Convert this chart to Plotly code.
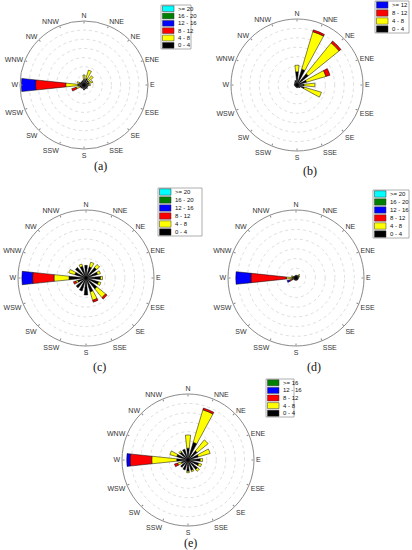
import plotly.graph_objects as go

W_PX, H_PX = 412, 550

# ---------------- data ----------------
DIR_LABELS = ["N", "NNE", "NE", "ENE", "E", "ESE", "SE", "SSE",
              "S", "SSW", "SW", "WSW", "W", "WNW", "NW", "NNW"]
DIR_ANGLES = [0, 22.5, 45, 67.5, 90, 112.5, 135, 157.5,
              180, 202.5, 225, 247.5, 270, 292.5, 315, 337.5]

CLASS_LABELS_6 = ["0 - 4", "4 - 8", "8 - 12", "12 - 16", "16 - 20", ">= 20"]
CLASS_LABELS_B = ["0 - 4", "4 - 8", "8 - 12", ">= 12"]
CLASS_LABELS_E = ["0 - 4", "4 - 8", "8 - 12", "12 - 16", ">= 16"]
CLASS_COLORS = ["#000000", "#ffff00", "#ff0000", "#0000ff", "#008000", "#00ffff"]
CLASS_COLORS_B = ["#000000", "#ffff00", "#ff0000", "#0000ff"]
CLASS_COLORS_E = ["#000000", "#ffff00", "#ff0000", "#0000ff", "#008000"]

# frequency (stacked segment) per direction for each speed class
A_0_4 = [1.2, 1.5, 1.3, 1.2, 1.0, 0.9, 1.0, 0.9, 1.1, 0.8, 0.9, 1.0, 1.4, 1.1, 0.9, 1.0]
A_4_8 = [1.0, 1.9, 1.3, 0.8, 0.4, 0, 0, 0, 0, 0, 0, 0.8, 2.6, 0.5, 0, 0]
A_8_12 = [0, 0, 0, 0, 0, 0, 0, 0, 0, 0, 0, 1.0, 6.6, 0, 0, 0]
A_12_16 = [0, 0, 0, 0, 0, 0, 0, 0, 0, 0, 0, 0, 3.1, 0, 0, 0]
A_16_20 = [0] * 16
A_20 = [0] * 16

B_0_4 = [2.8, 3.5, 3.1, 2.1, 1.5, 1.6, 0.8, 0.6, 0.6, 0.5, 0.5, 0.5, 0.6, 0.6, 0.7, 1.0]
B_4_8 = [1.4, 8.3, 8.4, 4.3, 2.3, 3.8, 0, 0, 0, 0, 0, 0, 0, 0, 0, 0]
B_8_12 = [0, 0.4, 0.5, 0.9, 0, 0, 0, 0, 0, 0, 0, 0, 0, 0, 0, 0]
B_12 = [0] * 16

C_0_4 = [2.6, 2.4, 2.8, 2.5, 3.0, 2.7, 2.9, 3.0, 3.5, 2.8, 2.6, 1.8, 3.5, 2.4, 2.8, 2.5]
C_4_8 = [0, 1.0, 0.8, 0.6, 0.4, 0.5, 2.3, 1.8, 0, 0, 0, 0.4, 3.1, 1.3, 0, 0.5]
C_8_12 = [0, 0, 0, 0, 0, 0, 0.4, 0.4, 0, 0, 0, 0.5, 4.4, 0, 0, 0]
C_12_16 = [0, 0, 0, 0, 0, 0, 0, 0, 0, 0, 0, 0, 2.2, 0, 0, 0]
C_16_20 = [0] * 16
C_20 = [0] * 16

D_0_4 = [0.6, 0.6, 0.7, 0.6, 0.5, 0.5, 0.5, 0.5, 0.5, 0.5, 0.5, 0.5, 0.8, 0.6, 0.5, 0.5]
D_4_8 = [0, 0, 0.3, 0.2, 0, 0, 0, 0, 0, 0, 0, 0.3, 1.2, 0.4, 0, 0]
D_8_12 = [0, 0, 0, 0, 0, 0, 0, 0, 0, 0, 0, 0.6, 7.3, 0, 0, 0]
D_12_16 = [0, 0, 0, 0, 0, 0, 0, 0, 0, 0, 0, 0.5, 3.1, 0, 0, 0]
D_16_20 = [0] * 16
D_20 = [0] * 16

E_0_4 = [2.5, 3.9, 2.5, 2.3, 2.6, 2.4, 2.6, 2.3, 2.4, 2.2, 2.0, 1.5, 2.4, 2.5, 2.2, 2.4]
E_4_8 = [2.8, 7.2, 3.0, 2.6, 0.5, 0.6, 0.5, 0.3, 0.3, 0, 0, 0.8, 5.3, 1.5, 0.3, 0]
E_8_12 = [0, 0.4, 0, 0, 0, 0, 0, 0, 0, 0, 0, 0.7, 4.6, 0, 0, 0]
E_12_16 = [0, 0, 0, 0, 0, 0, 0, 0, 0, 0, 0, 0, 0.7, 0, 0, 0]
E_16 = [0] * 16

RING_VALUES = [2, 4, 6, 8, 10, 12]
R_MAX = 14

PANELS = [
    dict(tag="(a)", cx=84, cy=85, r=64,
         series=[A_0_4, A_4_8, A_8_12, A_12_16, A_16_20, A_20],
         labels=CLASS_LABELS_6, colors=CLASS_COLORS,
         leg=(161, 5, 191, 49), cap=(100, 166)),
    dict(tag="(b)", cx=297, cy=85, r=66,
         series=[B_0_4, B_4_8, B_8_12, B_12],
         labels=CLASS_LABELS_B, colors=CLASS_COLORS_B,
         leg=(375, 1, 409, 33), cap=(310, 171)),
    dict(tag="(c)", cx=86, cy=278, r=68,
         series=[C_0_4, C_4_8, C_8_12, C_12_16, C_16_20, C_20],
         labels=CLASS_LABELS_6, colors=CLASS_COLORS,
         leg=(158, 188, 202, 236), cap=(99, 367)),
    dict(tag="(d)", cx=296, cy=278, r=68,
         series=[D_0_4, D_4_8, D_8_12, D_12_16, D_16_20, D_20],
         labels=CLASS_LABELS_6, colors=CLASS_COLORS,
         leg=(373, 190, 409, 238), cap=(314, 367)),
    dict(tag="(e)", cx=188, cy=460, r=66,
         series=[E_0_4, E_4_8, E_8_12, E_12_16, E_16],
         labels=CLASS_LABELS_E, colors=CLASS_COLORS_E,
         leg=(266, 379, 294, 417), cap=(190, 543)),
]


def px_x(x):
    return x / W_PX


def px_y(y):
    return 1 - y / H_PX


fig = go.Figure()
shapes = []
annotations = []
layout_polars = {}

for i, p in enumerate(PANELS):
    key = "polar" if i == 0 else f"polar{i + 1}"
    for vals, lab, col in zip(p["series"], p["labels"], p["colors"]):
        fig.add_trace(go.Barpolar(
            r=vals, theta=DIR_ANGLES, width=12, name=lab,
            marker=dict(color=col, line=dict(color="#000000", width=0.5)),
            subplot=key, showlegend=False,
        ))
    cx, cy, r = p["cx"], p["cy"], p["r"]
    layout_polars[key] = dict(
        domain=dict(x=[px_x(cx - r), px_x(cx + r)], y=[px_y(cy + r), px_y(cy - r)]),
        bgcolor="white",
        barmode="stack",
        radialaxis=dict(range=[0, R_MAX], tickvals=RING_VALUES, showticklabels=False,
                        ticks="", showline=False, gridcolor="#d4d4d4", griddash="dot",
                        gridwidth=0.8),
        angularaxis=dict(rotation=90, direction="clockwise", tickmode="array",
                         tickvals=DIR_ANGLES, ticktext=DIR_LABELS, showgrid=False,
                         linecolor="#8a8a8a", linewidth=1, ticks="inside", ticklen=2,
                         tickcolor="#8a8a8a",
                         tickfont=dict(family="Liberation Sans", size=7, color="#333333")),
    )

    # manual legend (highest class at top)
    x0, y0, x1, y1 = p["leg"]
    n = len(p["labels"])
    rowh = (y1 - y0) / n
    shapes.append(dict(type="rect", xref="paper", yref="paper",
                       x0=px_x(x0), x1=px_x(x1), y0=px_y(y1), y1=px_y(y0),
                       line=dict(color="#9a9a9a", width=0.8), fillcolor="white", layer="above"))
    order = list(range(n))[::-1]
    for row, k in enumerate(order):
        ty = y0 + rowh * row
        shapes.append(dict(type="rect", xref="paper", yref="paper",
                           x0=px_x(x0 + 1.5), x1=px_x(x0 + 13),
                           y0=px_y(ty + rowh - 0.8), y1=px_y(ty + 0.8),
                           line=dict(color="#333333", width=0.5),
                           fillcolor=p["colors"][k], layer="above"))
        annotations.append(dict(xref="paper", yref="paper", x=px_x(x0 + 14.5),
                                y=px_y(ty + rowh / 2), text=p["labels"][k],
                                showarrow=False, xanchor="left", yanchor="middle",
                                font=dict(family="Liberation Sans", size=6, color="#111111")))
    annotations.append(dict(xref="paper", yref="paper", x=px_x(p["cap"][0]),
                            y=px_y(p["cap"][1]), text=p["tag"], showarrow=False,
                            xanchor="center", yanchor="middle",
                            font=dict(family="Liberation Serif", size=12, color="#111111")))

fig.update_layout(
    width=W_PX, height=H_PX,
    margin=dict(l=0, r=0, t=0, b=0),
    paper_bgcolor="white",
    showlegend=False,
    hovermode=False,
    shapes=shapes,
    annotations=annotations,
    **layout_polars,
)

fig.write_html("out.html",
               config={"displayModeBar": False, "staticPlot": True},
               post_script="document.body.style.margin='0';document.body.style.overflow='hidden';")
